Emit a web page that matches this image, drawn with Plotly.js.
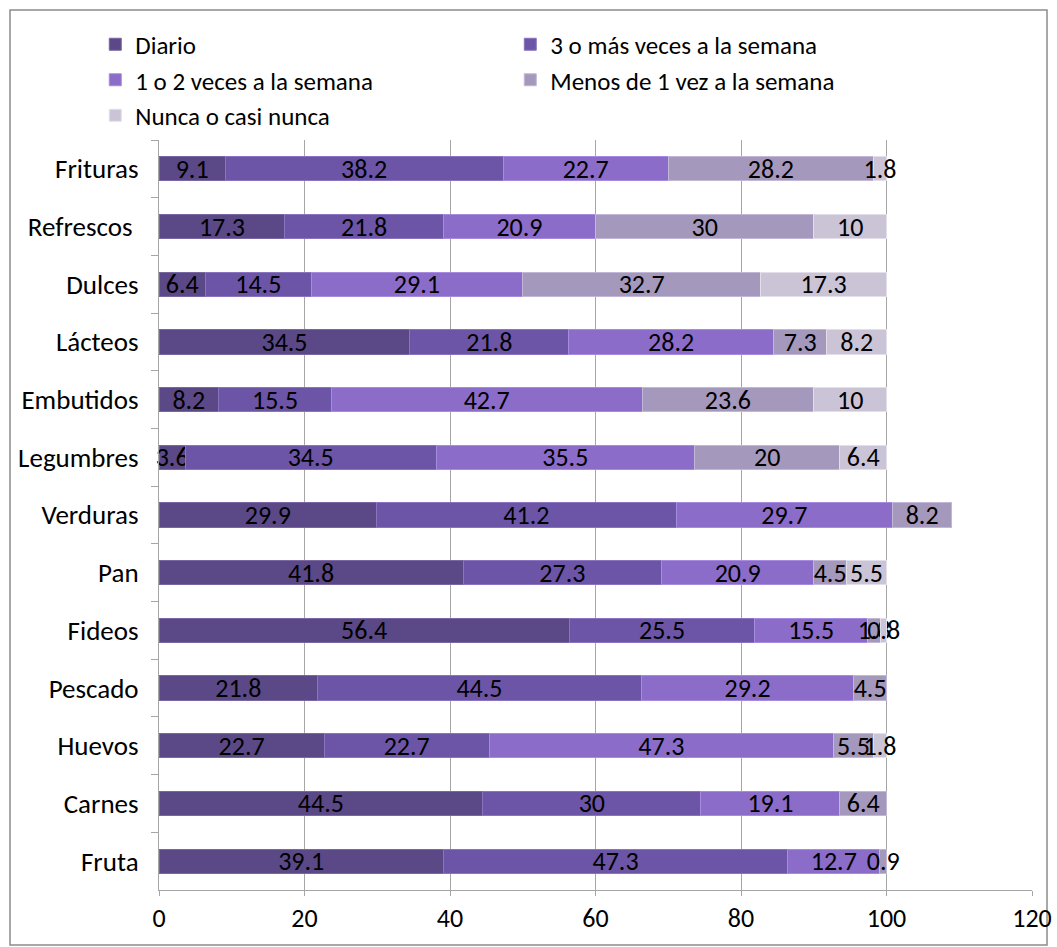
<!DOCTYPE html>
<html>
<head>
<meta charset="utf-8">
<script src="https://cdn.plot.ly/plotly-3.0.1.min.js"></script>
<style>html,body{margin:0;padding:0;background:#fff;}#chart{width:1057px;height:947px;}</style>
</head>
<body>
<div id="chart"></div>
<script>
const categories = ["Frituras", "Refrescos ", "Dulces", "Lácteos", "Embutidos", "Legumbres", "Verduras", "Pan", "Fideos", "Pescado", "Huevos", "Carnes", "Fruta"];
const seriesNames = ["Diario", "3 o más veces a la semana", "1 o 2 veces a la semana", "Menos de 1 vez a la semana", "Nunca o casi nunca"];
const diario      = [9.1, 17.3, 6.4, 34.5, 8.2, 3.6, 29.9, 41.8, 56.4, 21.8, 22.7, 44.5, 39.1];
const tresOMas    = [38.2, 21.8, 14.5, 21.8, 15.5, 34.5, 41.2, 27.3, 25.5, 44.5, 22.7, 30, 47.3];
const unoODos     = [22.7, 20.9, 29.1, 28.2, 42.7, 35.5, 29.7, 20.9, 15.5, 29.2, 47.3, 19.1, 12.7];
const menosDeUna  = [28.2, 30, 32.7, 7.3, 23.6, 20, 8.2, 4.5, 1.8, 4.5, 5.5, 6.4, 0.9];
const nunca       = [1.8, 10, 17.3, 8.2, 10, 6.4, null, 5.5, 0.8, null, 1.8, null, null];
const xTicks = [0, 20, 40, 60, 80, 100, 120];

const seriesValues = [diario, tresOMas, unoODos, menosDeUna, nunca];
const colors = ["#5b4886", "#6c55a6", "#8b6cc9", "#a598bd", "#cbc4d6"];
const lineColors = ["#7a66a3", "#8a74c0", "#a78be0", "#c2b7d6", "#e3dfea"];
const FONT = "Carlito, 'Liberation Sans Narrow', 'Open Sans', sans-serif";
const FS = 26;

const traces = seriesValues.map((vals, i) => ({
  type: "bar",
  orientation: "h",
  name: seriesNames[i],
  y: categories,
  x: vals,
  text: vals.map(v => v == null ? "" : String(v)),
  textposition: "inside",
  insidetextanchor: "middle",
  textangle: 0,
  constraintext: "none",
  cliponaxis: false,
  textfont: {family: FONT, size: FS, color: "#000"},
  marker: {color: colors[i], line: {color: lineColors[i], width: 1}},
  hoverinfo: "skip"
}));

const layout = {
  width: 1057, height: 947,
  barmode: "stack",
  bargap: 0.58,
  paper_bgcolor: "#fff",
  plot_bgcolor: "#fff",
  font: {family: FONT, size: FS, color: "#000"},
  margin: {l: 159, r: 25, t: 140, b: 57},
  uniformtext: {mode: "show", minsize: FS},
  showlegend: true,
  legend: {
    orientation: "h",
    x: -0.073, xanchor: "left",
    y: 1.158, yanchor: "top",
    entrywidth: 370, entrywidthmode: "pixels",
    traceorder: "normal",
    font: {family: FONT, size: 25, color: "#000"},
    itemwidth: 30,
    tracegroupgap: 0
  },
  xaxis: {
    range: [0, 120],
    tickvals: xTicks,
    ticktext: xTicks.map(String),
    showgrid: true,
    gridcolor: "#a6a6a6",
    gridwidth: 1,
    zeroline: false,
    showline: true,
    linecolor: "#a6a6a6",
    ticks: "outside",
    ticklen: 5,
    tickcolor: "#a6a6a6",
    tickfont: {family: FONT, size: FS, color: "#000"},
    ticklabelstandoff: 0,
    fixedrange: true
  },
  yaxis: {
    type: "category",
    categoryorder: "array",
    categoryarray: categories,
    autorange: "reversed",
    showgrid: false,
    zeroline: false,
    showline: true,
    linecolor: "#a6a6a6",
    ticks: "outside",
    tickson: "boundaries",
    ticklen: 7,
    tickcolor: "#a6a6a6",
    tickfont: {family: FONT, size: 27, color: "#000"},
    ticklabelstandoff: 14,
    fixedrange: true
  },
  shapes: [{
    type: "rect", xref: "paper", yref: "paper",
    x0: (10 - 159) / 873, x1: (1047 - 159) / 873,
    y0: -(945 - 890) / 750, y1: 1 + (140 - 10) / 750,
    line: {color: "#8c8c8c", width: 1.5},
    fillcolor: "rgba(0,0,0,0)",
    layer: "below"
  }]
};

Plotly.newPlot("chart", traces, layout, {displayModeBar: false, staticPlot: true});
</script>
</body>
</html>
